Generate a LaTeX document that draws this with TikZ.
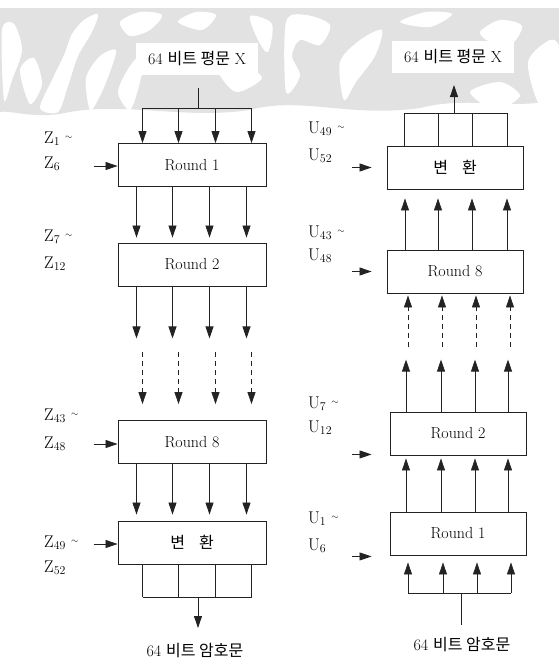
\documentclass[tikz,border=0pt]{standalone}
\usepackage{fontspec}
\newfontfamily\krfont{Noto Sans CJK KR}
\usetikzlibrary{arrows.meta,positioning,calc}
\definecolor{wmgray}{RGB}{226,226,226}
\definecolor{linecol}{RGB}{35,35,35}
\newcommand{\tld}{\raisebox{4pt}{\fontsize{9}{9}\selectfont$\sim$}}
\tikzset{
  rbox/.style    ={rectangle, draw=linecol, line width=0.9pt, fill=white,
                   minimum height=43pt, font=\fontsize{16}{18}\selectfont},
  lbox/.style    ={rbox, minimum width=148pt},
  ubox/.style    ={rbox, minimum width=136pt},
  flow/.style    ={-{Triangle[length=12pt,width=8pt]}, line width=0.8pt, draw=linecol},
  dflow/.style   ={flow, dash pattern=on 5pt off 4pt},
  wire/.style    ={line width=0.8pt, draw=linecol},
  keylbl/.style  ={anchor=base west, inner sep=0pt, font=\fontsize{17}{18}\selectfont},
  ttl/.style     ={fill=white, inner xsep=12pt, inner ysep=9pt, font=\fontsize{16}{18}\selectfont},
}

\begin{document}
\begin{tikzpicture}[x=1pt, y=-1pt]
    \useasboundingbox (0,0) rectangle (559,662);

    % watermark band
    \fill[wmgray] (0,8) -- (559,8) -- (559,98)
      .. controls (520,112) and (470,95) .. (420,108)
      .. controls (350,118) and (300,96) .. (250,110)
      .. controls (180,120) and (120,100) .. (60,114)
      .. controls (30,118) and (10,110) .. (0,112) -- cycle;
    \fill[white] plot[smooth cycle] coordinates {(2,30) (14,24) (22,50) (12,80) (4,100)};
    \fill[white] plot[smooth cycle] coordinates {(40,108) (52,80) (64,55) (72,34) (84,20) (98,14) (92,32) (78,56) (68,86) (58,112)};
    \fill[white] plot[smooth cycle] coordinates {(86,78) (100,56) (116,50) (110,72) (100,96) (90,110)};
    \fill[white] plot[smooth cycle] coordinates {(120,22) (140,12) (162,15) (150,30) (130,36)};
    \fill[white] plot[smooth cycle] coordinates {(118,92) (130,66) (145,52) (140,82) (130,110)};
    \fill[white] plot[smooth cycle] coordinates {(178,22) (196,12) (216,15) (202,30)};
    \fill[white] plot[smooth cycle] coordinates {(250,16) (272,24) (268,52) (258,40)};
    \fill[white] plot[smooth cycle] coordinates {(286,22) (306,15) (330,25) (320,45) (300,40) (292,56) (300,76) (286,92)};
    \fill[white] plot[smooth cycle] coordinates {(340,62) (360,40) (382,30) (375,56) (356,82) (344,100)};
    \fill[white] plot[smooth cycle] coordinates {(400,22) (426,12) (452,14) (430,27)};
    \fill[white] plot[smooth cycle] coordinates {(480,32) (500,20) (522,26) (510,46) (490,42)};
    \fill[white] plot[smooth cycle] coordinates {(528,62) (550,40) (560,50) (560,102) (540,106)};
    \fill[white] plot[smooth cycle] coordinates {(470,92) (500,82) (520,96) (495,110)};
    \fill[white] plot[smooth cycle] coordinates {(20,70) (34,58) (42,84) (30,104)};
    \fill[white] plot[smooth cycle] coordinates {(218,70) (240,64) (262,78) (236,92)};

    % nodes (encryption)
    \node[ttl] (lin) at (197,59) {64 {\krfont 비트 평문} X};
    \node[lbox] (l1) at (192,165) {Round 1};
    \node[lbox] (l2) at (192,264.5) {Round 2};
    \node[lbox] (l8) at (192,442) {Round 8};
    \node[lbox] (lt) at (192,542.5) {\krfont 변\hspace{14pt}환};
    \node[font=\fontsize{16}{18}\selectfont] (lct) at (195,651) {64 {\krfont 비트 암호문}};

    \node[keylbl] (zk1) at (44,143) {Z\textsubscript{1} \tld};
    \node[keylbl] (zk6) at (44,168) {Z\textsubscript{6}};
    \node[keylbl] (zk7) at (44,241) {Z\textsubscript{7} \tld};
    \node[keylbl] (zk12) at (44,268) {Z\textsubscript{12}};
    \node[keylbl] (zk43) at (44,420) {Z\textsubscript{43} \tld};
    \node[keylbl] (zk48) at (44,448) {Z\textsubscript{48}};
    \node[keylbl] (zk49) at (44,547) {Z\textsubscript{49} \tld};
    \node[keylbl] (zk52) at (44,572) {Z\textsubscript{52}};

    % nodes (decryption)
    \node[ttl] (uout) at (453,57) {64 {\krfont 비트 평문} X};
    \node[ubox] (ut) at (455,167.5) {\krfont 변\hspace{14pt}환};
    \node[ubox] (u8) at (455,271.5) {Round 8};
    \node[ubox] (u2) at (458,433.5) {Round 2};
    \node[ubox] (u1) at (458,533.5) {Round 1};
    \node[font=\fontsize{16}{18}\selectfont] (uct) at (462,645) {64 {\krfont 비트 암호문}};

    \node[keylbl] (uk49) at (308,133) {U\textsubscript{49} \tld};
    \node[keylbl] (uk52) at (308,160) {U\textsubscript{52}};
    \node[keylbl] (uk43) at (308,237) {U\textsubscript{43} \tld};
    \node[keylbl] (uk48) at (308,260) {U\textsubscript{48}};
    \node[keylbl] (uk7) at (308,408) {U\textsubscript{7} \tld};
    \node[keylbl] (uk12) at (308,432) {U\textsubscript{12}};
    \node[keylbl] (uk1) at (308,523) {U\textsubscript{1} \tld};
    \node[keylbl] (uk6) at (308,550) {U\textsubscript{6}};

    % flows (encryption)
    \coordinate (lsrc) at (198,88);
    \coordinate (lbar) at (198,108);
    \coordinate (lout) at (198,597);
    \draw[wire] (lsrc) -- (lbar);
    \draw[wire] ([xshift=-49.5pt]l1.north |- lbar) -- ([xshift=59.5pt]l1.north |- lbar);
    \foreach \dx in {-49.5,-13.5,23.5,59.5}
      \draw[flow] ([xshift=\dx pt]l1.north |- lbar) -- ([xshift=\dx pt]l1.north);
    \foreach \dx in {-55.5,-19.5,17.5,54.5}{
      \draw[flow, shorten >=5pt] ([xshift=\dx pt]l1.south) -- ([xshift=\dx pt]l2.north);
      \draw[flow] ([xshift=\dx pt]l2.south) -- ++(0,52);
      \draw[flow, shorten >=6pt] ([xshift=\dx pt]l8.south) -- ([xshift=\dx pt]lt.north);
    }
    \foreach \dx in {-49.5,-13.5,23.5,59.5}{
      \draw[dflow] ([xshift=\dx pt, yshift=68pt]l8.north) -- ++(0,52);
      \draw[wire] ([xshift=\dx pt]lt.south) -- ([xshift=\dx pt]lt.south |- lout);
    }
    \draw[wire] ([xshift=-49.5pt]lt.south |- lout) -- ([xshift=59.5pt]lt.south |- lout);
    \draw[flow] (lout) -- ++(0,31);
    \draw[flow] ([xshift=-24pt, yshift=-1pt]l1.west) -- ([yshift=-1pt]l1.west);
    \draw[flow] ([xshift=-24pt, yshift=-2pt]l8.west) -- ([yshift=-2pt]l8.west);
    \draw[flow] ([xshift=-24pt, yshift=-1.5pt]lt.west) -- ([yshift=-1.5pt]lt.west);

    % flows (decryption)
    \coordinate (ubar) at (454,113);
    \coordinate (usrc) at (461,625);
    \coordinate (uin) at (461,593);
    \draw[flow] (ubar) -- ++(0,-28);
    \draw[wire] ([xshift=-51pt]ut.north |- ubar) -- ([xshift=52pt]ut.north |- ubar);
    \foreach \dx in {-51,-17,17,52}
      \draw[wire] ([xshift=\dx pt]ut.north) -- ([xshift=\dx pt]ut.north |- ubar);
    \foreach \dx in {-50,-17,17,52}
      \draw[flow, shorten >=9pt] ([xshift=\dx pt]u8.north) -- ([xshift=\dx pt]ut.south);
    \foreach \dx in {-47,-13,21,55}
      \draw[dflow, shorten >=2pt] ([xshift=\dx pt, yshift=-54pt]u8.south) -- ([xshift=\dx pt]u8.south);
    \foreach \dx in {-52,-17,17,50}{
      \draw[flow] ([xshift=\dx pt]u2.north) -- ++(0,-52);
      \draw[flow, shorten >=3pt] ([xshift=\dx pt]u1.north) -- ([xshift=\dx pt]u2.south);
    }
    \draw[wire] (usrc) -- (uin);
    \draw[wire] ([xshift=-50pt]u1.south |- uin) -- ([xshift=53pt]u1.south |- uin);
    \foreach \dx in {-50,-15,19,53}
      \draw[flow, shorten >=7pt] ([xshift=\dx pt]u1.south |- uin) -- ([xshift=\dx pt]u1.south);
    \draw[flow] ([xshift=-35pt]ut.west) -- ([xshift=-15pt]ut.west);
    \draw[flow] ([xshift=-35pt]u8.west) -- ([xshift=-15pt]u8.west);
    \draw[flow] ([xshift=-38pt, yshift=1pt]u2.south west) -- ([xshift=-18pt, yshift=1pt]u2.south west);
    \draw[flow] ([xshift=-38pt, yshift=-1pt]u1.south west) -- ([xshift=-18pt, yshift=-1pt]u1.south west);
  \end{tikzpicture}
\end{document}
